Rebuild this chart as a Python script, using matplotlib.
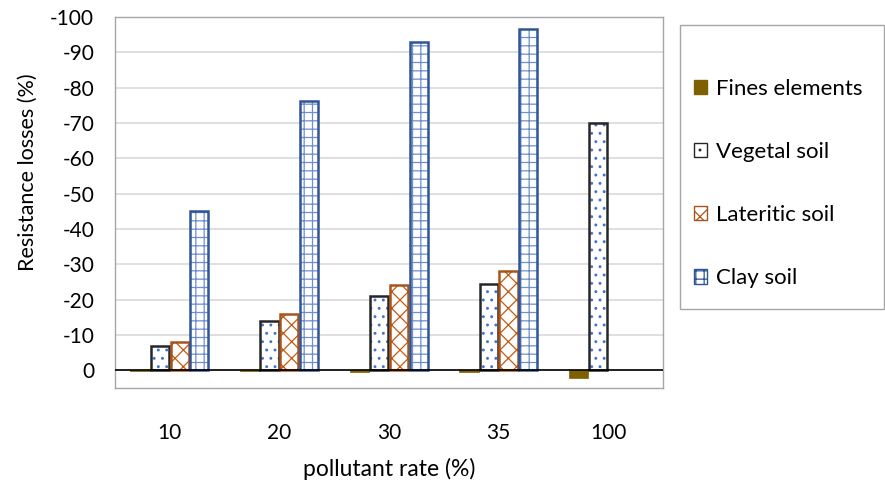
import matplotlib
matplotlib.use("Agg")
import matplotlib.pyplot as plt
import numpy as np
from matplotlib.patches import Patch, Rectangle

categories = ["10", "20", "30", "35", "100"]
fines = [0.1, 0.3, 0.5, 0.5, 2.3]
vegetal = [-7.0, -14.0, -21.0, -24.5, -70.0]
lateritic = [-8.0, -16.0, -24.2, -28.2, np.nan]
clay = [-45.2, -76.3, -93.0, -96.5, np.nan]
series_names = ["Fines elements", "Vegetal soil", "Lateritic soil", "Clay soil"]

plt.rcParams['font.family'] = ['Lato', 'DejaVu Sans']
plt.rcParams['hatch.linewidth'] = 0.9

fig = plt.figure(figsize=(8.85, 4.88), dpi=100)
ax = fig.add_axes([115/885, 1-388/488, 548/885, 371/488])

x = np.arange(len(categories))
w = 0.18
offs = [-1.5*w, -0.5*w, 0.5*w, 1.5*w]

ax.bar(x+offs[0], fines, w, color="#7F6000", edgecolor="#7F6000", linewidth=0.5, zorder=3)

def hbar(pos, vals, hatch, hcol, ecol):
    ax.bar(pos, vals, w*0.92, color="white", edgecolor=hcol, hatch=hatch, linewidth=0, zorder=3)
    ax.bar(pos, vals, w*0.92, color="none", edgecolor=ecol, linewidth=1.8, zorder=4)

hbar(x+offs[1], vegetal, "..", "#4472C4", "#262626")
hbar(x+offs[2], lateritic, "xx", "#C55A11", "#A9531A")
hbar(x+offs[3], clay, "++", "#6E8FCC", "#2F5597")

ax.set_ylim(5, -100)
ax.set_xlim(-0.5, len(categories)-0.5)
ax.set_yticks(np.arange(0, -101, -10))
ax.set_yticklabels([str(v) for v in range(0, -101, -10)])
ax.set_xticks(x)
ax.set_xticklabels(categories)
ax.tick_params(axis='both', length=0, labelsize=15, colors="#000000")
ax.tick_params(axis='x', pad=25)
ax.tick_params(axis='y', pad=15)
ax.yaxis.grid(True, color="#D9D9D9", linewidth=1.2, zorder=0)
ax.set_axisbelow(True)
ax.axhline(0, color="black", linewidth=1.2, zorder=5)
for s in ax.spines.values():
    s.set_color("#A6A6A6")
    s.set_linewidth(1.0)

ax.set_ylabel("Resistance losses (%)", fontsize=15.5)
ax.yaxis.set_label_coords((38-115)/548, (388-172)/371)
ax.set_xlabel("pollutant rate (%)", fontsize=16.5)
ax.xaxis.set_label_coords(0.5, (388-458)/371)

# legend frame
fig.patches.append(Rectangle((680/885, 1-309/488), 204/885, 284/488,
                             transform=fig.transFigure, facecolor="white",
                             edgecolor="#A6A6A6", linewidth=1.0, zorder=0))
handles = [
    Patch(facecolor="#7F6000", edgecolor="#7F6000"),
    Patch(facecolor="white", edgecolor="#262626", hatch=".."),
    Patch(facecolor="white", edgecolor="#A9531A", hatch="xx"),
    Patch(facecolor="white", edgecolor="#2F5597", hatch="++"),
]
leg = fig.legend(handles, series_names, loc="upper left",
                 bbox_to_anchor=(694/885, 1-79/488), bbox_transform=fig.transFigure,
                 fontsize=16, frameon=False,
                 handlelength=0.6, handleheight=0.6, handletextpad=0.4,
                 labelspacing=1.94, borderpad=0, borderaxespad=0)

fig.savefig("out.png", dpi=100)
